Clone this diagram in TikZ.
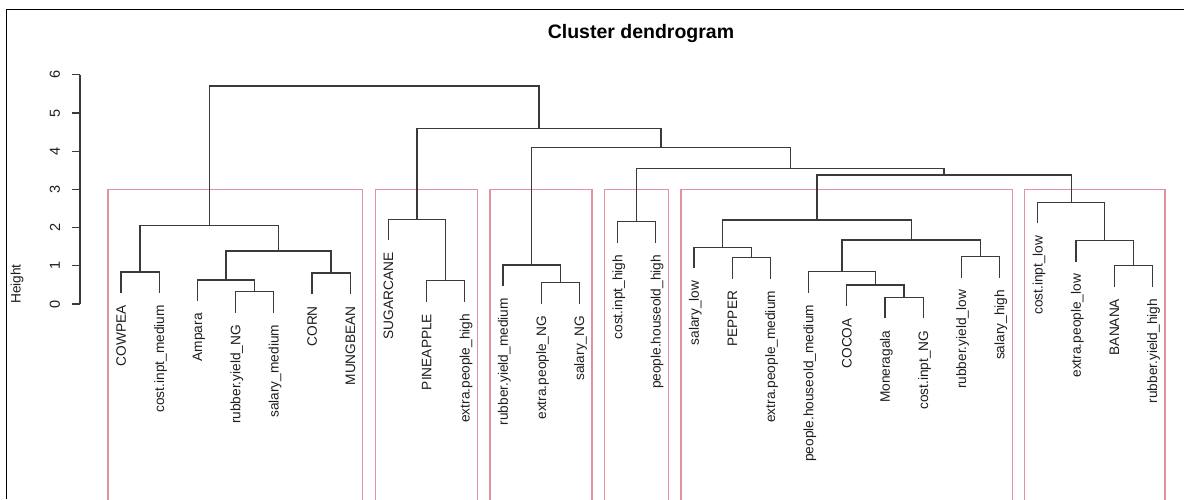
\documentclass[tikz,border=0pt]{standalone}
\usepackage{fontspec}
\setmainfont{Liberation Sans}
\definecolor{dline}{HTML}{3A3A3A}
\definecolor{rbox}{HTML}{E3919F}
\definecolor{txt}{HTML}{1E1E1E}
\begin{document}
\begin{tikzpicture}[x=1pt,y=-1pt,
  link/.style={draw=dline, line width=1.25pt},
  clbox/.style={draw=rbox, line width=1.2pt},
  frameline/.style={draw=black, line width=1.5pt},
  axisline/.style={draw=dline, line width=1.1pt},
  leaflab/.style={rotate=90, anchor=east, inner sep=0pt, text height=9.6pt, text depth=0pt, font=\fontsize{13.7}{14}\selectfont, text=txt},
  ticklab/.style={rotate=90, inner sep=0pt, font=\fontsize{14.5}{15}\selectfont, text=txt},
  titlelab/.style={inner sep=0pt, font=\bfseries\fontsize{19.5}{22}\selectfont, text=black}]
\useasboundingbox (0,0) rectangle (1184,499);
\clip (0,0) rectangle (1184,499);
\fill[white] (0,0) rectangle (1184,499);

% frame
\coordinate (FB) at (6.5,499);
\coordinate (FC) at (6.5,9.5);
\coordinate (FR) at (1184,9.5);
\draw[frameline] (FB) -- (FC) -- (FR);

% title
\node[titlelab] (title) at (641,33) {Cluster dendrogram};

% y axis
\coordinate (A0) at (80,304);
\coordinate (A6) at (80,74.8);
\draw[axisline] (A0) -- (A6);
\foreach \k in {0,...,6} {
  \coordinate (tkA\k) at (80,{304-38.2*\k});
  \coordinate (tkB\k) at (72,{304-38.2*\k});
  \draw[axisline] (tkA\k) -- (tkB\k);
  \node[ticklab] (tk\k) at (55,{304-38.2*\k}) {\k};
}
\node[ticklab, font=\fontsize{13.7}{14}\selectfont] (ylab) at (17,284) {Height};

% cluster boxes
\draw[clbox] (108,189.3) rectangle (362.8,520);
\draw[clbox] (375.4,189.3) rectangle (477.4,520);
\draw[clbox] (490,189.3) rectangle (592,520);
\draw[clbox] (604.6,189.3) rectangle (668.4,520);
\draw[clbox] (681,189.3) rectangle (1012.2,520);
\draw[clbox] (1024.8,189.3) rectangle (1165,520);

% leaves
\foreach \i/\yy/\lab in {
  0/293/COWPEA, 1/293/cost.inpt\_medium, 2/301/Ampara,
  3/312.7/rubber.yield\_NG, 4/312.7/salary\_medium, 5/294/CORN,
  6/294/MUNGBEAN, 7/240.3/SUGARCANE, 8/301.7/PINEAPPLE,
  9/301.7/extra.people\_high, 10/286/rubber.yield\_medium,
  11/303.7/extra.people\_NG, 12/303.7/salary\_NG,
  13/242.7/cost.inpt\_high, 14/242.7/people.houseold\_high,
  15/268.3/salary\_low, 16/278.7/PEPPER, 17/278.7/extra.people\_medium,
  18/292.7/people.houseold\_medium, 19/306/COCOA, 20/318.3/Moneragala,
  21/318.3/cost.inpt\_NG, 22/277.7/rubber.yield\_low, 23/277.7/salary\_high,
  24/223.3/cost.inpt\_low, 25/261.7/extra.people\_low, 26/286.7/BANANA,
  27/286.7/rubber.yield\_high} {
  \coordinate (L\i) at ({121+38.2*\i},\yy);
  \node[leaflab] (T\i) at ({121+38.2*\i},{\yy+12}) {\lab};
}

% merge points
\coordinate (m01) at (140.1,272);
\coordinate (m34) at (254.7,291.7);
\coordinate (m234) at (226.05,280);
\coordinate (m56) at (331.1,273);
\coordinate (m2to6) at (278.6,251);
\coordinate (c1) at (209.3,225.7);

\coordinate (m89) at (445.7,280.7);
\coordinate (c2) at (417,219.3);

\coordinate (m1112) at (560.3,282.7);
\coordinate (c3) at (531.7,265);

\coordinate (c4) at (636.7,221.7);

\coordinate (m1617) at (751.3,257.7);
\coordinate (m15to17) at (722.65,247.3);
\coordinate (m2021) at (904.1,297.3);
\coordinate (m19to21) at (875.45,285);
\coordinate (m18to21) at (842,271.7);
\coordinate (m2223) at (980.5,256.7);
\coordinate (m18to23) at (911.25,240);
\coordinate (c5) at (816.95,220);

\coordinate (m2627) at (1133.3,265.7);
\coordinate (m25to27) at (1104.75,240.7);
\coordinate (c6) at (1071.3,202.3);

\coordinate (n3) at (944.1,175);
\coordinate (n4) at (790.4,168.3);
\coordinate (n5) at (661.05,147.7);
\coordinate (n6) at (539,128.3);
\coordinate (root) at (374.2,86);

% links
\draw[link] (L0) |- (m01) -| (L1);
\draw[link] (L3) |- (m34) -| (L4);
\draw[link] (L2) |- (m234) -| (m34);
\draw[link] (L5) |- (m56) -| (L6);
\draw[link] (m234) |- (m2to6) -| (m56);
\draw[link] (m01) |- (c1) -| (m2to6);

\draw[link] (L8) |- (m89) -| (L9);
\draw[link] (L7) |- (c2) -| (m89);

\draw[link] (L11) |- (m1112) -| (L12);
\draw[link] (L10) |- (c3) -| (m1112);

\draw[link] (L13) |- (c4) -| (L14);

\draw[link] (L16) |- (m1617) -| (L17);
\draw[link] (L15) |- (m15to17) -| (m1617);
\draw[link] (L20) |- (m2021) -| (L21);
\draw[link] (L19) |- (m19to21) -| (m2021);
\draw[link] (L18) |- (m18to21) -| (m19to21);
\draw[link] (L22) |- (m2223) -| (L23);
\draw[link] (m18to21) |- (m18to23) -| (m2223);
\draw[link] (m15to17) |- (c5) -| (m18to23);

\draw[link] (L26) |- (m2627) -| (L27);
\draw[link] (L25) |- (m25to27) -| (m2627);
\draw[link] (L24) |- (c6) -| (m25to27);

\draw[link] (c5) |- (n3) -| (c6);
\draw[link] (c4) |- (n4) -| (n3);
\draw[link] (c3) |- (n5) -| (n4);
\draw[link] (c2) |- (n6) -| (n5);
\draw[link] (c1) |- (root) -| (n6);
\end{tikzpicture}
\end{document}
